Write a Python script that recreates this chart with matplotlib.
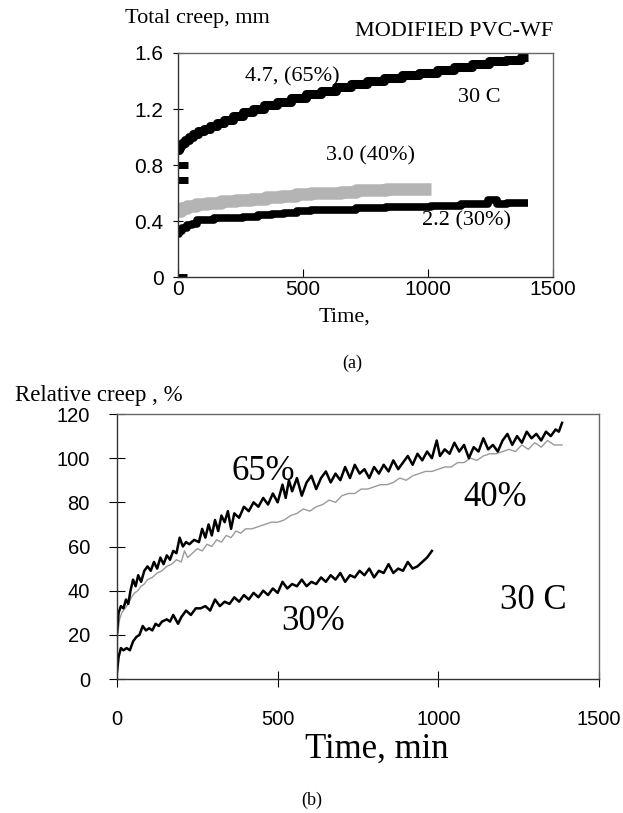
import numpy as np
import matplotlib
matplotlib.use("Agg")
import matplotlib.pyplot as plt

# ---- panel (a): total creep, mm ----
t65 = [0, 5, 10, 20, 35, 50, 70, 90, 115, 140, 170, 200, 240, 280, 320, 370, 420,
       480, 540, 600, 660, 720, 790, 860, 930, 1000, 1070, 1140, 1210, 1280, 1340, 1400]
v65 = [0.91, 0.92, 0.94, 0.96, 0.98, 1.00, 1.02, 1.04, 1.06, 1.08, 1.10, 1.12, 1.15,
       1.18, 1.20, 1.23, 1.25, 1.28, 1.31, 1.33, 1.36, 1.38, 1.40, 1.42, 1.44, 1.46,
       1.48, 1.50, 1.52, 1.54, 1.55, 1.57]
t65_start = [8, 8, 5]
v65_start = [0.80, 0.69, 0.0]

t40 = [0, 20, 50, 90, 140, 200, 260, 320, 380, 440, 500, 560, 620, 680, 740, 800,
       860, 920, 980, 1010]
v40 = [0.47, 0.49, 0.51, 0.52, 0.53, 0.54, 0.55, 0.56, 0.57, 0.58, 0.59, 0.60, 0.60,
       0.61, 0.62, 0.62, 0.63, 0.63, 0.63, 0.63]

t30 = [0, 10, 25, 45, 70, 80, 120, 170, 230, 290, 350, 400, 450, 500, 560, 620, 680,
       740, 800, 860, 920, 980, 1040, 1100, 1160, 1220, 1260, 1290, 1340, 1400]
v30 = [0.31, 0.33, 0.35, 0.37, 0.38, 0.41, 0.41, 0.42, 0.42, 0.43, 0.44, 0.45, 0.46,
       0.47, 0.48, 0.48, 0.48, 0.49, 0.49, 0.50, 0.50, 0.50, 0.51, 0.51, 0.52, 0.52,
       0.55, 0.52, 0.53, 0.53]

# ---- panel (b): relative creep, % ----
r65 = [(0, 21), (5, 30), (12, 33), (20, 32), (28, 36), (35, 34), (42, 40), (50, 45),
       (58, 42), (66, 47), (75, 44), (85, 49), (95, 51), (105, 49), (115, 53), (125, 50),
       (135, 55), (145, 52), (155, 56), (165, 54), (175, 58), (185, 57), (195, 64),
       (205, 60), (215, 62), (225, 61), (240, 63), (255, 62), (265, 68), (275, 64),
       (285, 70), (295, 65), (305, 72), (315, 67), (325, 74), (335, 71), (345, 76),
       (355, 68), (365, 75), (380, 73), (395, 78), (410, 76), (425, 80), (440, 78),
       (455, 82), (470, 79), (485, 84), (500, 80), (515, 88), (525, 82), (535, 90),
       (545, 85), (560, 91), (575, 83), (590, 89), (605, 92), (620, 86), (635, 91),
       (650, 94), (665, 89), (680, 93), (695, 90), (710, 96), (725, 91), (740, 97),
       (755, 93), (770, 95), (785, 91), (800, 96), (815, 93), (830, 97), (845, 94),
       (860, 99), (875, 95), (890, 98), (905, 101), (920, 97), (935, 102), (950, 99),
       (965, 103), (980, 100), (995, 108), (1005, 101), (1020, 104), (1035, 102),
       (1050, 107), (1065, 103), (1080, 106), (1095, 100), (1110, 105), (1125, 103),
       (1140, 109), (1155, 104), (1170, 106), (1185, 103), (1200, 108), (1215, 111),
       (1230, 106), (1245, 110), (1260, 107), (1275, 112), (1290, 109), (1305, 111),
       (1320, 108), (1335, 112), (1350, 110), (1365, 113), (1375, 112), (1385, 116)]

r40 = [(0, 0), (2, 20), (8, 27), (15, 30), (25, 32), (35, 34), (45, 37), (55, 39),
       (65, 40), (75, 42), (85, 43), (95, 45), (110, 46), (125, 48), (140, 49),
       (155, 51), (170, 52), (185, 54), (200, 53), (210, 58), (220, 55), (235, 57),
       (250, 59), (265, 58), (280, 61), (295, 60), (310, 63), (325, 62), (340, 65),
       (355, 64), (370, 67), (385, 66), (400, 68), (420, 68), (440, 69), (460, 70),
       (480, 71), (500, 71), (520, 72), (540, 74), (560, 75), (580, 77), (600, 76),
       (620, 78), (640, 79), (660, 81), (680, 80), (700, 83), (720, 84), (740, 84),
       (760, 86), (780, 86), (800, 87), (820, 88), (840, 88), (860, 89), (880, 91),
       (900, 90), (920, 92), (940, 93), (960, 94), (980, 94), (1000, 95), (1020, 96),
       (1040, 96), (1060, 98), (1080, 98), (1100, 100), (1120, 99), (1140, 101),
       (1160, 102), (1180, 102), (1200, 103), (1220, 104), (1240, 103), (1260, 106),
       (1280, 104), (1300, 107), (1320, 105), (1340, 108), (1360, 106), (1385, 106)]

r30 = [(0, 3), (5, 10), (12, 14), (20, 13), (30, 14), (40, 13), (50, 17), (60, 19),
       (70, 20), (80, 24), (90, 22), (100, 23), (110, 22), (120, 25), (130, 24),
       (140, 26), (155, 27), (165, 26), (175, 29), (190, 25), (200, 28), (215, 31),
       (230, 29), (245, 32), (260, 32), (275, 33), (290, 31), (305, 36), (320, 33),
       (335, 35), (350, 34), (365, 37), (380, 35), (395, 38), (410, 36), (425, 39),
       (440, 37), (455, 40), (470, 38), (485, 41), (500, 39), (515, 44), (530, 41),
       (545, 43), (560, 42), (575, 45), (590, 42), (605, 44), (620, 43), (635, 46),
       (650, 44), (665, 47), (680, 45), (695, 48), (710, 44), (725, 47), (740, 46),
       (755, 49), (770, 47), (785, 50), (800, 46), (815, 49), (830, 48), (845, 52),
       (860, 48), (875, 50), (890, 49), (905, 53), (920, 50), (935, 51), (950, 53),
       (965, 55), (980, 58)]

serif = "Liberation Serif"
sans = "Liberation Sans"
W, H = 623, 813


def ftext(x, y, s, size, **kw):
    # place text using pixel positions of the reference
    fig.text(x / W, 1 - y / H, s, fontsize=size, family=serif, **kw)


fig = plt.figure(figsize=(6.23, 8.13), dpi=100)

# ---------- top panel ----------
ax1 = fig.add_axes([178 / W, 1 - 277 / H, (553 - 178) / W, (277 - 53) / H])
ax1.plot(t40, v40, color="#b4b4b4", lw=9, solid_capstyle="butt", drawstyle="steps-mid")
ax1.plot(t65, v65, color="black", lw=6.5, solid_capstyle="butt", drawstyle="steps-mid")
ax1.plot(t30, v30, color="black", lw=5.5, solid_capstyle="butt", drawstyle="steps-mid")
ax1.plot(t65_start, v65_start, ls="none", marker="_", ms=12, mew=5, color="black")
ax1.set_xlim(0, 1500)
ax1.set_ylim(0, 1.6)
ax1.set_xticks([0, 500, 1000, 1500])
ax1.set_yticks([0, 0.4, 0.8, 1.2, 1.6])
ax1.set_yticklabels(["0", "0.4", "0.8", "1.2", "1.6"])
ax1.tick_params(axis="x", direction="in", length=6, pad=2, labelsize=15)
ax1.tick_params(axis="y", direction="inout", length=7, pad=7, labelsize=15)
for lab in ax1.get_xticklabels() + ax1.get_yticklabels():
    lab.set_family(sans)
for sp in ax1.spines.values():
    sp.set_color("#666666")
    sp.set_linewidth(1.0)
ax1.spines["left"].set_color("#333333")
ax1.spines["bottom"].set_color("#333333")

ftext(270, 18, "Total creep, mm", 16, ha="right", va="center")
ftext(553, 32, "MODIFIED PVC-WF", 16, ha="right", va="center")
ftext(292, 77, "4.7, (65%)", 16, ha="center", va="center")
ftext(479, 97, "30 C", 16, ha="center", va="center")
ftext(371, 156, "3.0 (40%)", 16, ha="center", va="center")
ftext(466, 221, "2.2 (30%)", 16, ha="center", va="center")
ftext(344, 317, "Time,", 16, ha="center", va="center")
ftext(352, 363, "(a)", 13, ha="center", va="center")

# ---------- bottom panel ----------
ax2 = fig.add_axes([117 / W, 1 - 679 / H, (599 - 117) / W, (679 - 414) / H])
ax2.plot([p[0] for p in r40], [p[1] for p in r40], color="#9a9a9a", lw=1.0)
ax2.plot([p[0] for p in r65], [p[1] for p in r65], color="black", lw=1.8)
ax2.plot([p[0] for p in r30], [p[1] for p in r30], color="black", lw=1.8)
ax2.set_xlim(0, 1500)
ax2.set_ylim(0, 120)
ax2.set_xticks([0, 500, 1000, 1500])
ax2.set_yticks(np.arange(0, 121, 20))
ax2.tick_params(axis="x", direction="inout", length=12, pad=16, labelsize=14.5)
ax2.tick_params(axis="y", direction="inout", length=11, pad=14, labelsize=14.5)
for lab in ax2.get_xticklabels() + ax2.get_yticklabels():
    lab.set_family(sans)
for sp in ax2.spines.values():
    sp.set_color("#666666")
    sp.set_linewidth(1.0)
ax2.spines["left"].set_color("#333333")
ax2.spines["bottom"].set_color("#333333")

ftext(15, 395, "Relative creep , %", 16.5, ha="left", va="center")
ftext(263, 471, "65%", 25, ha="center", va="center")
ftext(495, 497, "40%", 25, ha="center", va="center")
ftext(533, 600, "30 C", 25, ha="center", va="center")
ftext(313, 622, "30%", 25, ha="center", va="center")
ftext(377, 749, "Time, min", 25, ha="center", va="center")
ftext(312, 800, "(b)", 13, ha="center", va="center")

fig.savefig("out.png", dpi=100)
